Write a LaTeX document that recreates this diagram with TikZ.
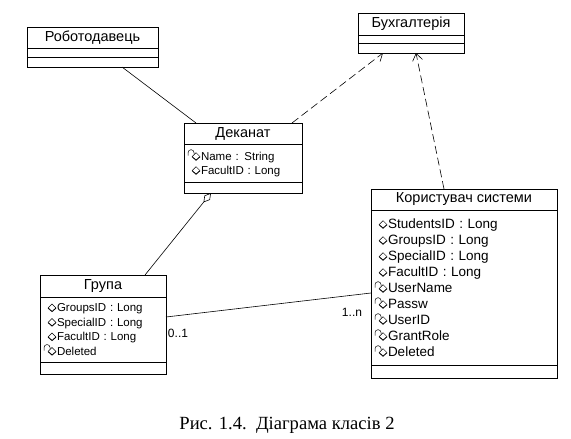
\documentclass[tikz,border=0pt]{standalone}
\usepackage{fontspec}
\setmainfont{Liberation Sans}
\newfontfamily\capfont{Liberation Serif}
\usetikzlibrary{positioning,arrows.meta}

% attribute icons
\newcommand{\pubic}{\makebox[15pt][r]{\tikz[baseline=-3.5pt,x=1pt,y=1pt]{\draw[line width=0.5pt] (0,0) -- (4,4) -- (8,0); \draw[line width=0.9pt] (0,0) -- (4,-3.5) -- (8,0);}\hspace{0.5pt}}}
\newcommand{\privic}{\makebox[15pt][r]{\tikz[baseline=-3.5pt,x=1pt,y=1pt]{\draw[line width=0.5pt] (0,1) -- (0,4) arc (180:0:3) -- (6,2.5); \draw[line width=0.5pt] (4,0) -- (8,4) -- (12,0); \draw[line width=0.9pt] (4,0) -- (8,-3.5) -- (12,0);}\hspace{0.5pt}}}

\begin{document}
\begin{tikzpicture}[x=1pt, y=-1pt, every node/.style={font=\fontsize{14.5}{16}\selectfont}]
  \tikzstyle{clsname}=[draw,line width=0.9pt,outer sep=0pt,inner sep=0pt,minimum height=21pt,anchor=north west]
  \tikzstyle{clspart}=[draw,line width=0.9pt,outer sep=0pt,inner sep=0pt]
  \tikzstyle{clsattr}=[draw,line width=0.9pt,outer sep=0pt,inner xsep=2pt,inner ysep=0pt,align=left,font=\fontsize{13.5}{16}\selectfont]
  \tikzstyle{dep}=[line width=0.6pt,dash pattern=on 8pt off 4pt,-{Straight Barb[length=7pt,width=10pt]}]
  \tikzstyle{assoc}=[line width=0.6pt]
  \useasboundingbox (0,0) rectangle (571,439);

  \node[clsname,minimum width=131pt] (rob) at (27,27) {Роботодавець};
  \node[clspart,minimum width=131pt,minimum height=9pt,below=0pt of rob] (rob2) {};
  \node[clspart,minimum width=131pt,minimum height=10pt,below=0pt of rob2] (rob3) {};

  \node[clsname,minimum width=106pt,minimum height=22pt] (buh) at (358,13) {Бухгалтерія};
  \node[clspart,minimum width=106pt,minimum height=8pt,below=0pt of buh] (buh2) {};
  \node[clspart,minimum width=106pt,minimum height=10pt,below=0pt of buh2] (buh3) {};

  \node[clsname,minimum width=118pt] (dek) at (184,123) {Деканат};
  \node[clsattr,text width=114pt,minimum height=38pt,below=0pt of dek,font=\fontsize{11.5}{14}\selectfont] (dek2)
    {\privic Name : String\\\pubic FacultID : Long};
  \node[clspart,minimum width=118pt,minimum height=11pt,below=0pt of dek2] (dek3) {};

  \node[clsname,minimum width=126pt,minimum height=22pt] (grp) at (40,275) {Група};
  \node[clsattr,text width=122pt,minimum height=65pt,below=0pt of grp,font=\fontsize{11.5}{14.5}\selectfont] (grp2)
    {\pubic GroupsID : Long\\\pubic SpecialID : Long\\\pubic FacultID : Long\\\privic Deleted};
  \node[clspart,minimum width=126pt,minimum height=12pt,below=0pt of grp2] (grp3) {};

  \node[clsname,minimum width=186pt] (kor) at (371,189) {Користувач системи};
  \node[clsattr,text width=182pt,minimum height=155pt,below=0pt of kor] (kor2)
    {\pubic StudentsID : Long\\\pubic GroupsID : Long\\\pubic SpecialID : Long\\\pubic FacultID : Long\\
     \privic UserName\\\privic Passw\\\privic UserID\\\privic GrantRole\\\privic Deleted};
  \node[clspart,minimum width=186pt,minimum height=13pt,below=0pt of kor2] (kor3) {};

  \draw[assoc] ([xshift=29.5pt]rob3.south) -- ([xshift=-47pt]dek.north);
  \draw[dep] ([xshift=-10pt]dek.north east) -- ([xshift=-28pt]buh3.south);
  \draw[dep] ([xshift=-20pt]kor.north) -- ([xshift=5pt]buh3.south);
  \draw[assoc,{Diamond[open,length=12pt,width=7pt]}-] ([xshift=-32pt]dek3.south) -- ([xshift=42pt]grp.north);
  \draw[assoc] ([yshift=12.5pt]grp2.east) -- ([yshift=-5.5pt]kor2.west);

  \node[font=\fontsize{12}{14}\selectfont] (m1) at (178,333) {0..1};
  \node[font=\fontsize{12}{14}\selectfont] (m2) at (352,312) {1..n};

  \node[font=\capfont\fontsize{18.6}{22}\selectfont] (cap) at (287,425) {Рис. 1.4.\ \ Діаграма класів 2};
\end{tikzpicture}
\end{document}
